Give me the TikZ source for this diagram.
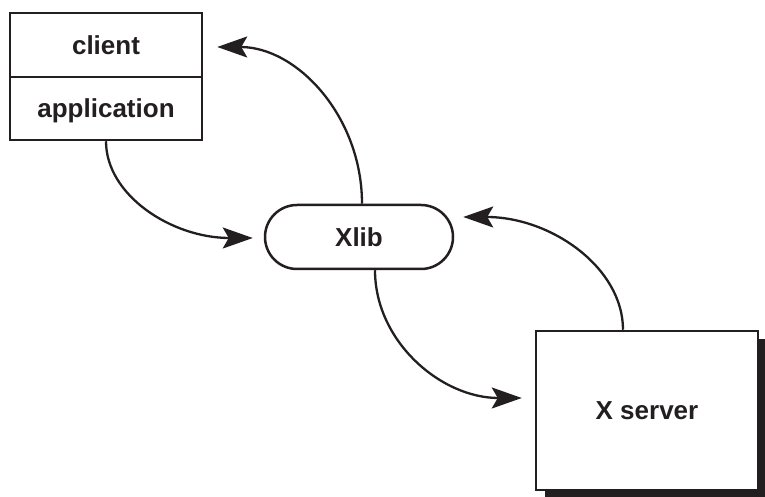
\documentclass[tikz,border=0pt]{standalone}
\usepackage{fontspec}
\setmainfont{Liberation Sans}
\usetikzlibrary{arrows.meta}
\definecolor{ink}{HTML}{231F20}
\begin{document}
\begin{tikzpicture}[x=1pt,y=1pt,
  box/.style={draw=ink, line width=2.5pt, fill=white, text=ink,
    font=\fontsize{26}{30}\selectfont\bfseries, inner sep=0pt,
    text height=19pt, text depth=0pt},
  shadowbox/.style={fill=ink, inner sep=0pt},
  conn/.style={draw=ink, line width=2.3pt,
    -{Stealth[length=30pt,width=21pt,inset=6pt]}}]
\useasboundingbox (0,0) rectangle (765,497);
% client / application stack
\node[box, minimum width=192pt, minimum height=64pt] (client) at (106,452) {client};
\node[box, minimum width=192pt, minimum height=63pt] (app) at (106,388.5) {application};
% Xlib
\node[box, minimum width=188pt, minimum height=64pt, rounded corners=32pt] (xlib) at (359,260) {Xlib};
% X server with shadow
\node[shadowbox, minimum width=222pt, minimum height=159pt] (shadow) at (656,78.5) {};
\node[box, minimum width=222pt, minimum height=159pt] (xserver) at (647,86.5) {X server};
% connectors
\draw[conn] ([xshift=3pt]xlib.north) .. controls +(0,87) and +(80,0) .. ([xshift=14pt,yshift=-2pt]client.east);
\draw[conn] (app.south) .. controls +(0,-54) and +(-81,0) .. ([xshift=-11pt,yshift=-1pt]xlib.west);
\draw[conn] ([xshift=16pt]xlib.south) .. controls +(0,-71) and +(-81,0) .. ([xshift=-13pt,yshift=12.5pt]xserver.west);
\draw[conn] ([xshift=-24pt]xserver.north) .. controls +(0,62) and +(88,0) .. ([xshift=9pt,yshift=20pt]xlib.east);
\end{tikzpicture}
\end{document}
